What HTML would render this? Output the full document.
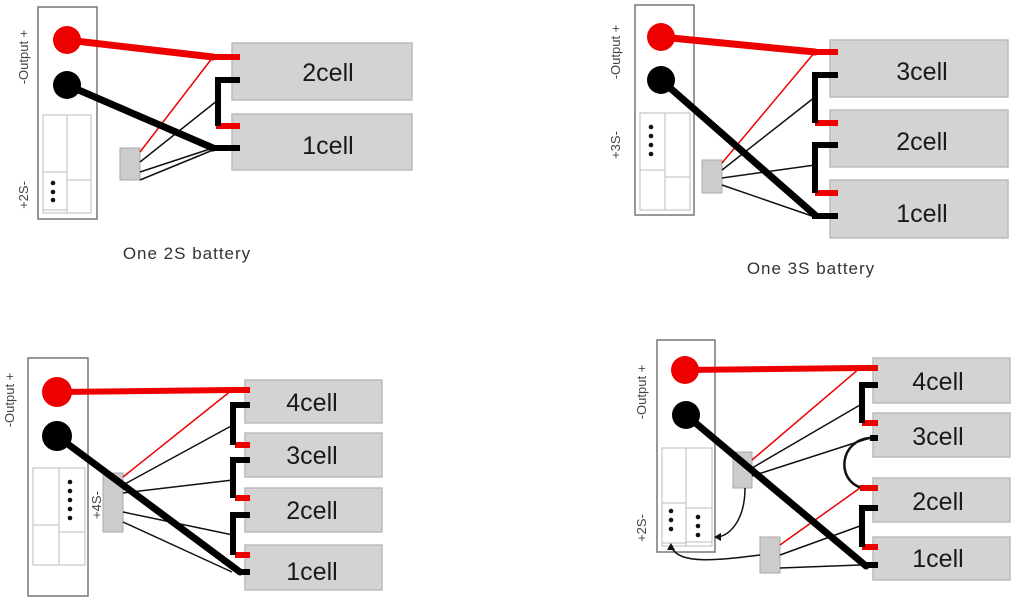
<!DOCTYPE html>
<html><head><style>html,body{margin:0;padding:0;background:#fff;width:1024px;height:600px;overflow:hidden}</style></head>
<body>
<svg width="1024" height="600" viewBox="0 0 1024 600" xmlns="http://www.w3.org/2000/svg" font-family="Liberation Sans, sans-serif">
<g fill="#d3d3d3" stroke="#bbb" stroke-width="1.5">
<rect x="232" y="43" width="180" height="57"/><rect x="232" y="114" width="180" height="56"/>
<rect x="830" y="40" width="178" height="57"/><rect x="830" y="110" width="178" height="57"/><rect x="830" y="180" width="178" height="58"/>
<rect x="245" y="380" width="137" height="43"/><rect x="245" y="433" width="137" height="44"/><rect x="245" y="488" width="137" height="44"/><rect x="245" y="545" width="137" height="45"/>
<rect x="873" y="358" width="137" height="45"/><rect x="873" y="413" width="137" height="44"/><rect x="873" y="478" width="137" height="44"/><rect x="873" y="537" width="137" height="43"/>
</g>
<g font-size="25" fill="#1a1a1a" text-anchor="middle">
<text x="328" y="81">2cell</text><text x="328" y="154">1cell</text>
<text x="922" y="80">3cell</text><text x="922" y="150">2cell</text><text x="922" y="222">1cell</text>
<text x="312" y="411">4cell</text><text x="312" y="464">3cell</text><text x="312" y="519">2cell</text><text x="312" y="580">1cell</text>
<text x="938" y="390">4cell</text><text x="938" y="445">3cell</text><text x="938" y="510">2cell</text><text x="938" y="567">1cell</text>
</g>
<g font-size="17" fill="#333" text-anchor="middle" letter-spacing="1">
<text x="187" y="259">One 2S battery</text><text x="811" y="274">One 3S battery</text>
</g>
<g fill="#fff" stroke="#777" stroke-width="1.5">
<rect x="38" y="7" width="59" height="212"/><rect x="635" y="5" width="59" height="210"/><rect x="28" y="358" width="60" height="238"/><rect x="657" y="340" width="58" height="212"/>
</g>
<g fill="none" stroke="#bbb" stroke-width="1">
<rect x="43" y="115" width="48" height="98"/><line x1="67" y1="115" x2="67" y2="213"/><rect x="43" y="172" width="24" height="38"/><line x1="67" y1="180" x2="91" y2="180"/>
<rect x="640" y="113" width="50" height="97"/><line x1="665" y1="113" x2="665" y2="210"/><line x1="640" y1="170" x2="665" y2="170"/><line x1="665" y1="177" x2="690" y2="177"/>
<rect x="33" y="468" width="52" height="97"/><line x1="59" y1="468" x2="59" y2="565"/><line x1="33" y1="525" x2="59" y2="525"/><line x1="59" y1="532" x2="85" y2="532"/>
<rect x="662" y="448" width="50" height="98"/><line x1="686" y1="448" x2="686" y2="546"/><rect x="662" y="503" width="24" height="40"/><rect x="686" y="508" width="26" height="34"/>
</g>
<g fill="#111">
<circle cx="53" cy="183" r="2.3"/><circle cx="53" cy="192" r="2.3"/><circle cx="53" cy="200" r="2.3"/>
<circle cx="651" cy="127" r="2.3"/><circle cx="651" cy="136" r="2.3"/><circle cx="651" cy="145" r="2.3"/><circle cx="651" cy="154" r="2.3"/>
<circle cx="70" cy="482" r="2.3"/><circle cx="70" cy="491" r="2.3"/><circle cx="70" cy="500" r="2.3"/><circle cx="70" cy="509" r="2.3"/><circle cx="70" cy="518" r="2.3"/>
<circle cx="671" cy="511" r="2.3"/><circle cx="671" cy="520" r="2.3"/><circle cx="671" cy="529" r="2.3"/>
<circle cx="698" cy="517" r="2.3"/><circle cx="698" cy="526" r="2.3"/><circle cx="698" cy="535" r="2.3"/>
</g>
<g font-size="13" fill="#444" text-anchor="middle">
<text transform="translate(28,57) rotate(-90)">-Output +</text><text transform="translate(28,195) rotate(-90)">+2S-</text>
<text transform="translate(620,52) rotate(-90)">-Output +</text><text transform="translate(620,145) rotate(-90)">+3S-</text>
<text transform="translate(14,400) rotate(-90)">-Output +</text><text transform="translate(101,505) rotate(-90)">+4S-</text>
<text transform="translate(646,392) rotate(-90)">-Output +</text><text transform="translate(646,528) rotate(-90)">+2S-</text>
</g>
<g fill="#ccc" stroke="#aaa"><rect x="120" y="148" width="20" height="32"/><rect x="702" y="160" width="20" height="33"/><rect x="103" y="473" width="20" height="59"/><rect x="733" y="452" width="19" height="36"/><rect x="760" y="537" width="20" height="36"/></g>
<g fill="none" stroke-width="1.5">
<path d="M140 152L213 57" stroke="#e00"/><path d="M140 162L218 100M140 172L213 148M140 180L213 150" stroke="#111"/>
<path d="M722 163L815 52" stroke="#e00"/><path d="M722 170L815 97M722 178L815 165M722 185L812 216" stroke="#111"/>
<path d="M123 477L232 390" stroke="#e00"/><path d="M123 485L233 425M123 493L233 480M123 512L233 535M123 522L232 572" stroke="#111"/>
<path d="M752 460L860 368M780 545L860 488" stroke="#e00"/><path d="M752 468L860 405M752 476L870 438M780 555L860 526M780 568L860 565" stroke="#111"/>
<path d="M870 438C840 440 835 480 862 488" stroke="#111" stroke-width="2.5"/>
<path d="M745 488C745 520 730 535 718 537" stroke="#111"/><path d="M760 555C720 560 680 565 672 548" stroke="#111"/>
</g>
<g fill="#111"><path d="M714 537l7-4v8z"/><path d="M671 543l-4 7h8z"/></g>
<g fill="none" stroke-linecap="round">
<path d="M67 40L213 57" stroke="#e00" stroke-width="7"/><path d="M67 85L213 148" stroke="#000" stroke-width="7"/>
<path d="M661 37L815 52" stroke="#e00" stroke-width="7"/><path d="M661 80L815 215" stroke="#000" stroke-width="7"/>
<path d="M57 392L232 390" stroke="#e00" stroke-width="6"/><path d="M57 436L240 572" stroke="#000" stroke-width="7"/>
<path d="M685 370L860 368" stroke="#e00" stroke-width="6"/><path d="M686 415L866 566" stroke="#000" stroke-width="7"/>
</g>
<g fill="#e00"><circle cx="67" cy="40" r="14"/><circle cx="661" cy="37" r="14"/><circle cx="57" cy="392" r="15"/><circle cx="685" cy="370" r="14"/></g>
<g fill="#000"><circle cx="67" cy="85" r="14"/><circle cx="661" cy="80" r="14"/><circle cx="57" cy="436" r="15"/><circle cx="686" cy="415" r="14"/></g>
<g fill="none" stroke-width="6">
<g stroke="#e00"><path d="M213 57h27M216 126h24M812 52h26M815 123h23M815 193h23M232 390h18M235 445h15M235 498h15M235 555h15M858 368h20M862 423h16M860 488h18M862 547h16"/></g>
<g stroke="#000"><path d="M240 80h-22v46M213 148h27M838 75h-23v48M838 145h-23v48M812 216h26M250 405h-17v40M250 460h-17v38M250 515h-17v40M240 572h10M878 385h-16v38M878 438h-8M878 508h-16v39M866 565h12"/></g>
</g>
</svg>
</body></html>
